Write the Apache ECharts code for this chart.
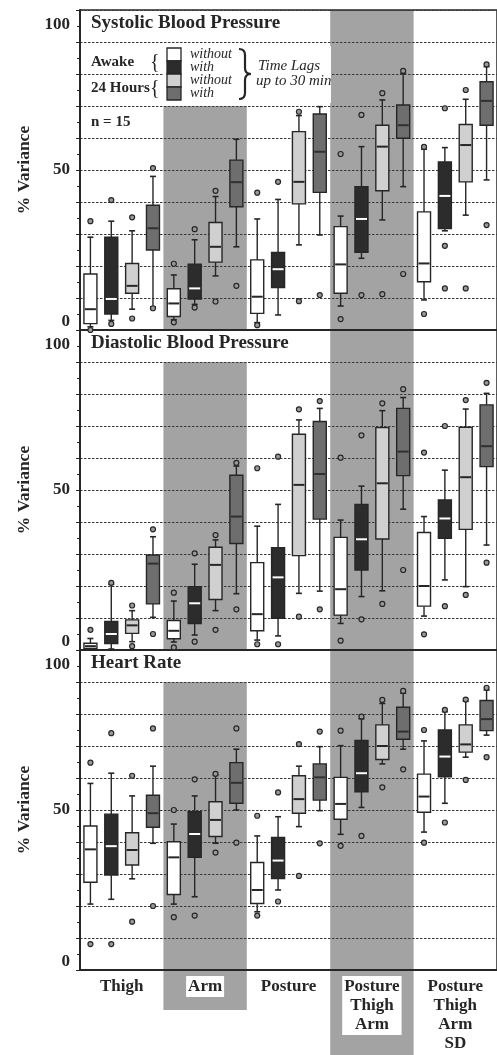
<!DOCTYPE html>
<html>
<head>
<meta charset="utf-8">
<script src="https://cdn.jsdelivr.net/npm/echarts@6/dist/echarts.min.js"></script>
<style>
html, body { margin: 0; padding: 0; background: #fff; }
#chart { width: 497px; height: 1055px; }
</style>
</head>
<body>
<div id="chart"></div>
<script>
const groups = ['Thigh', 'Arm', 'Posture', 'Posture\nThigh\nArm', 'Posture\nThigh\nArm\nSD'];
const panelTitles = ['Systolic Blood Pressure', 'Diastolic Blood Pressure', 'Heart Rate'];

// box values per group: [low whisker, q1, median, q3, high whisker]
const sbpAwakeWithout = [[1, 2, 6.5, 17.5, 29], [3.2, 4.2, 8.3, 12.9, 17.2], [2.3, 5.2, 10.4, 21.9, 34.7], [7.5, 11.5, 20.5, 32.3, 35.6], [9.4, 15.1, 20.8, 36.9, 56.5]];
const sbpAwakeWith = [[3, 5, 9.7, 29, 34], [8, 9.7, 13, 20.6, 28.2], [4.7, 13.3, 19, 24.2, 40.8], [22.4, 24.3, 34.7, 44.8, 57.3], [31, 31.7, 41.9, 52.5, 57]];
const sbp24Without = [[6.5, 11.5, 13.8, 20.8, 31], [16.9, 21.2, 26, 33.6, 41.7], [26.6, 39.4, 46.3, 62, 67], [34.4, 43.5, 57.3, 64, 71.9], [35.9, 46.3, 57.8, 64.2, 72.1]];
const sbp24With = [[7.2, 25, 31.8, 39, 48], [26, 38.5, 46.2, 53.1, 59.6], [29.7, 43, 55.7, 67.5, 69.8], [44.8, 59.9, 64, 70.3, 80.2], [46.9, 64, 71.6, 77.6, 82.3]];

const dbpAwakeWithout = [[0, 0.5, 1.2, 2.1, 3.6], [2.5, 3.5, 6, 9.2, 15.3], [3.1, 6, 11.2, 27.3, 38.7], [8.3, 10.9, 19, 35.2, 40.6], [10.6, 13.7, 20, 36.7, 41.7]];
const dbpAwakeWith = [[0.3, 2, 5, 8.9, 20.5], [4.7, 8.3, 14.6, 19.8, 26.8], [4.4, 9.9, 22.7, 32, 45.5], [16.7, 25, 34.6, 45.5, 51.2], [21.9, 34.9, 41.1, 46.9, 56.2]];
const dbp24Without = [[2.6, 5.2, 7.7, 9.4, 12.3], [12.3, 15.8, 26.6, 32.1, 34.4], [17.7, 29.5, 51.6, 67.4, 71.9], [18.5, 34.7, 52.1, 69.5, 74.8], [19.8, 37.7, 54, 69.6, 75.3]];
const dbp24With = [[10.2, 14.4, 27, 29.7, 35.4], [17.6, 33.3, 41.7, 54.6, 57.5], [18.4, 40.9, 55, 71.4, 75.5], [44, 54.5, 62, 75.5, 78.9], [32.8, 57.3, 63.7, 76.6, 80.2]];

const hrAwakeWithout = [[20.6, 27.4, 37.7, 45, 58.3], [20.6, 23.6, 35.2, 40.1, 45.6], [18.2, 20.8, 25, 33.6, 41.9], [42.4, 47.1, 51.9, 60.2, 70.1], [43.1, 49.3, 54.2, 61.2, 71.6]];
const hrAwakeWith = [[22.1, 29.7, 38.7, 48.7, 61.5], [22.9, 35.2, 42.5, 49.5, 54.4], [25, 28.6, 34.2, 41.4, 47.9], [50.8, 55.7, 61.5, 71.7, 78.5], [52.1, 60.4, 66.7, 75, 80.7]];
const hr24Without = [[28.5, 32.8, 37.5, 42.9, 54.4], [39.6, 41.7, 46.9, 52.6, 60.8], [44.8, 49, 53.4, 60.7, 63.7], [64.4, 65.8, 70, 76.6, 83.3], [66.5, 68.1, 70.5, 76.6, 84]];
const hr24With = [[39.6, 44.6, 49, 54.6, 63.7], [50, 52.1, 58.5, 64.8, 69], [49.8, 53.1, 60.2, 64.4, 69.8], [69, 72.1, 74.5, 82.1, 86.5], [73.4, 74.8, 78.4, 84.2, 87.5]];

// outliers per group
const sbpAwakeWithoutOut = [[34, 0], [20.7, 2.4], [42.9, 1.5], [55, 3.4], [57.2, 5]];
const sbpAwakeWithOut = [[40.6, 1.9], [31.5, 7], [46.3], [67.2, 10.9], [69.3, 26.3, 13]];
const sbp24WithoutOut = [[35.2, 3.6], [43.5, 8.9], [68.2, 9], [74, 11.2], [75, 13]];
const sbp24WithOut = [[50.6, 6.8], [13.8], [72.3, 10.9], [81, 17.5], [83, 32.8]];

const dbpAwakeWithoutOut = [[6.3], [17.9, 0.8], [56.8, 1.8], [60.1, 2.9], [61.7, 4.9]];
const dbpAwakeWithOut = [[21], [30.2, 2.6], [60.4, 1.8], [67.1, 9.6], [70, 13.7]];
const dbp24WithoutOut = [[13.9, 1.2], [35.9, 6.3], [75.2, 10.4], [77.1, 14.4], [78.1, 17.2]];
const dbp24WithOut = [[37.7, 5], [58.5, 12.7], [77.8, 12.7], [81.5, 25], [83.5, 27.3]];

const hrAwakeWithoutOut = [[64.8, 8.1], [50, 16.5], [48.2, 17], [74.8, 38.8], [75, 39.8]];
const hrAwakeWithOut = [[74, 8.1], [59.6, 17], [55.5, 21.4], [79.2, 41.9], [81.3, 46.1]];
const hr24WithoutOut = [[60.7, 15.1], [61.3, 36.7], [70.6, 29.4], [84.4, 57.1], [84.5, 59.4]];
const hr24WithOut = [[75.5, 20], [75.5, 39.8], [74.5, 39.6], [87.2, 62.7], [88.2, 66.5]];

// height of the grey shading behind groups 2 and 4
const shadeTop = [['-', 70, '-', 100, '-'], ['-', 90, '-', 100, '-'], ['-', 90, '-', 100, '-']];

const panels = [
  { boxes: [sbpAwakeWithout, sbpAwakeWith, sbp24Without, sbp24With], outs: [sbpAwakeWithoutOut, sbpAwakeWithOut, sbp24WithoutOut, sbp24WithOut] },
  { boxes: [dbpAwakeWithout, dbpAwakeWith, dbp24Without, dbp24With], outs: [dbpAwakeWithoutOut, dbpAwakeWithOut, dbp24WithoutOut, dbp24WithOut] },
  { boxes: [hrAwakeWithout, hrAwakeWith, hr24Without, hr24With], outs: [hrAwakeWithoutOut, hrAwakeWithOut, hr24WithoutOut, hr24WithOut] }
];

const SERIF = 'Liberation Serif';
const INK = '#262626';
const SHADE = '#a3a3a3';
const boxFill = ['#ffffff', '#2c2c2c', '#d0d0d0', '#6e6e6e'];
const medianColor = [INK, '#ffffff', INK, '#303030'];

const L = 80, TOP = 10, PH = 320, W = 417;
const bandW = W / 5;
const slots = [];
for (let i = 0; i < 20; i++) slots.push(String(i));

function renderBox(params, api) {
  const x = api.value(0);
  const s = api.value(6);
  const lo = api.coord([x, api.value(1)]);
  const q1 = api.coord([x, api.value(2)]);
  const md = api.coord([x, api.value(3)]);
  const q3 = api.coord([x, api.value(4)]);
  const hi = api.coord([x, api.value(5)]);
  const cx = lo[0];
  const bw = 13, cw = 6;
  const line = (x1, y1, x2, y2, stroke, w) => ({
    type: 'line', shape: { x1: x1, y1: y1, x2: x2, y2: y2 }, style: { stroke: stroke, lineWidth: w }
  });
  return {
    type: 'group',
    children: [
      line(cx, hi[1], cx, q3[1], INK, 1.4),
      line(cx, q1[1], cx, lo[1], INK, 1.4),
      line(cx - cw / 2, hi[1], cx + cw / 2, hi[1], INK, 1.6),
      line(cx - cw / 2, lo[1], cx + cw / 2, lo[1], INK, 1.6),
      { type: 'rect', shape: { x: cx - bw / 2, y: q3[1], width: bw, height: q1[1] - q3[1] },
        style: { fill: boxFill[s], stroke: INK, lineWidth: 1.4 } },
      line(cx - bw / 2 + 1, md[1], cx + bw / 2 - 1, md[1], medianColor[s], 2)
    ]
  };
}

const grid = [], xAxis = [], yAxis = [], series = [];
panels.forEach((p, k) => {
  grid.push({ left: L, top: TOP + k * PH, width: W, height: PH, show: true, borderColor: INK, borderWidth: 1.5, backgroundColor: 'transparent' });
  xAxis.push({ type: 'category', gridIndex: k, data: slots, show: false, position: 'bottom' });
  xAxis.push({
    type: 'category', gridIndex: k, data: groups, position: 'bottom',
    axisLine: { show: true, onZero: false, lineStyle: { color: INK, width: 2 } },
    axisTick: { show: false },
    axisLabel: {
      show: k === 2, interval: 0, margin: 6,
      fontFamily: SERIF, fontWeight: 'bold', fontSize: 17, lineHeight: 19, color: INK,
      backgroundColor: '#fff', padding: [1, 2]
    }
  });
  yAxis.push({
    type: 'value', gridIndex: k, min: 0, max: 100, interval: 10,
    name: '% Variance', nameLocation: 'middle', nameGap: 44,
    nameTextStyle: { fontFamily: SERIF, fontWeight: 'bold', fontSize: 17.5, color: INK },
    axisLine: { show: true, lineStyle: { color: INK, width: 2 } },
    axisTick: { show: true, length: 4, lineStyle: { color: INK } },
    minorTick: { show: true, splitNumber: 2, length: 3, lineStyle: { color: INK } },
    splitLine: { show: true, lineStyle: { color: '#3a3a3a', type: [2.5, 1.5], width: 1 } },
    axisLabel: {
      margin: 10, fontFamily: SERIF, fontWeight: 'bold', fontSize: 17, color: INK,
      formatter: v => (v === 100 ? '{top|100}' : v % 50 === 0 ? String(v) : ''),
      rich: { top: { fontFamily: SERIF, fontWeight: 'bold', fontSize: 17, color: INK, padding: [6, 0, 0, 0] } },
      verticalAlignMaxLabel: 'top', verticalAlignMinLabel: 'bottom'
    }
  });

  series.push({
    type: 'bar', xAxisIndex: 2 * k + 1, yAxisIndex: k, z: -1, silent: true,
    barWidth: '100%', data: shadeTop[k], itemStyle: { color: SHADE }
  });

  const boxData = [], outData = [];
  p.boxes.forEach((arr, s) => {
    arr.forEach((b, g) => {
      boxData.push([g * 4 + s].concat(b, [s]));
      p.outs[s][g].forEach(v => outData.push([g * 4 + s, v]));
    });
  });
  series.push({
    type: 'custom', xAxisIndex: 2 * k, yAxisIndex: k, renderItem: renderBox,
    encode: { x: 0, y: [1, 2, 3, 4, 5] }, data: boxData, z: 3
  });
  series.push({
    type: 'scatter', xAxisIndex: 2 * k, yAxisIndex: k, data: outData, z: 4,
    symbol: 'circle', symbolSize: 5,
    itemStyle: { color: '#9a9a9a', borderColor: INK, borderWidth: 1.2, opacity: 1 }
  });
});

const txt = (x, y, text, size, weight, style) => ({
  type: 'text', x: x, y: y, z: 20,
  style: { text: text, fontFamily: SERIF, fontSize: size, fontWeight: weight, fontStyle: style, fill: INK, verticalAlign: 'middle' }
});
const curve = (x1, y1, cx, cy, x2, y2) => ({
  type: 'bezierCurve', z: 20,
  shape: { x1: x1, y1: y1, cpx1: cx, cpy1: cy, x2: x2, y2: y2 },
  style: { fill: 'none', stroke: INK, lineWidth: 2.2 }
});
const seg = (x1, y1, x2, y2) => ({
  type: 'line', z: 20, shape: { x1: x1, y1: y1, x2: x2, y2: y2 }, style: { stroke: INK, lineWidth: 2.2 }
});

const graphics = [
  // grey shading continues below the axis behind the labels
  { type: 'rect', z: -5, shape: { x: L + bandW, y: TOP + 3 * PH, width: bandW, height: 40 }, style: { fill: SHADE } },
  { type: 'rect', z: -5, shape: { x: L + 3 * bandW, y: TOP + 3 * PH, width: bandW, height: 90 }, style: { fill: SHADE } },
  // legend background
  { type: 'rect', z: 10, shape: { x: 164, y: 46, width: 167, height: 57 }, style: { fill: '#fff' } },
  txt(91, 62, 'Awake', 15, 'bold', 'normal'),
  txt(150, 63, '{', 20, 'normal', 'normal'),
  txt(91, 88, '24 Hours', 15, 'bold', 'normal'),
  txt(150, 89, '{', 20, 'normal', 'normal'),
  txt(190, 54.5, 'without', 14, 'normal', 'italic'),
  txt(190, 67, 'with', 14, 'normal', 'italic'),
  txt(190, 80, 'without', 14, 'normal', 'italic'),
  txt(190, 93, 'with', 14, 'normal', 'italic'),
  curve(239, 49, 245, 49, 245, 55),
  seg(245, 55, 245, 68),
  curve(245, 68, 245, 74, 251, 74),
  curve(251, 74, 245, 74, 245, 80),
  seg(245, 80, 245, 93),
  curve(245, 93, 245, 99, 239, 99),
  txt(258, 66, 'Time Lags', 15, 'normal', 'italic'),
  txt(256, 81, 'up to 30 min', 15, 'normal', 'italic'),
  txt(91, 122, 'n = 15', 15, 'bold', 'normal')
];
boxFill.forEach((c, i) => {
  graphics.push({ type: 'rect', z: 20, shape: { x: 167, y: 48 + i * 13, width: 14, height: 13 },
    style: { fill: c, stroke: INK, lineWidth: 1.3 } });
});
panelTitles.forEach((t, k) => {
  graphics.push(txt(91, TOP + k * PH + 13, t, 19, 'bold', 'normal'));
});

const chart = echarts.init(document.getElementById('chart'));
chart.setOption({
  animation: false,
  backgroundColor: '#fff',
  grid: grid,
  xAxis: xAxis,
  yAxis: yAxis,
  series: series,
  graphic: { elements: graphics }
});
</script>
</body>
</html>
